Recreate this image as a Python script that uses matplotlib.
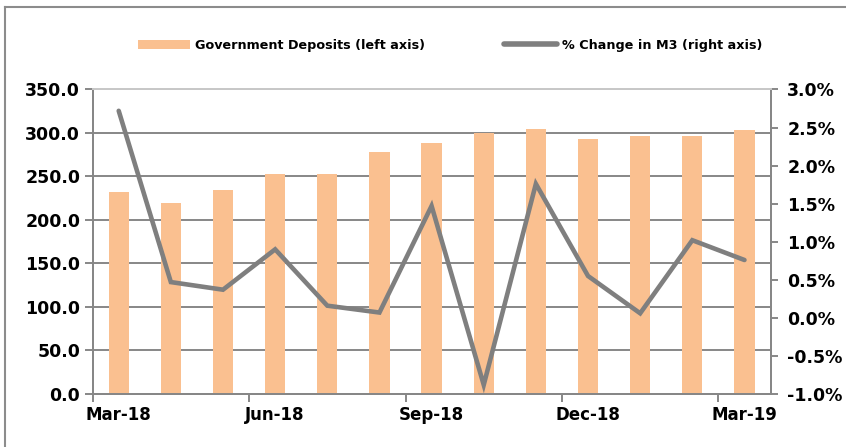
import numpy as np
import matplotlib
matplotlib.use("Agg")
import matplotlib.pyplot as plt
from matplotlib.lines import Line2D
from matplotlib.patches import Patch
from matplotlib.ticker import FixedLocator, FuncFormatter


# Data
months = ["Mar-18", "Apr-18", "May-18", "Jun-18", "Jul-18", "Aug-18", "Sep-18",
          "Oct-18", "Nov-18", "Dec-18", "Jan-19", "Feb-19", "Mar-19"]
gov_deposits = [232, 220, 235, 253, 253, 278, 288, 300, 305, 293, 297, 297, 303]
m3_change = [2.72, 0.47, 0.37, 0.90, 0.16, 0.07, 1.47, -0.88, 1.76, 0.55, 0.06, 1.02, 0.76]

bar_color = "#FAC090"
line_color = "#7F7F7F"
axis_grey = "#878787"
font = "DejaVu Sans"

plt.rcParams['font.family'] = [font]
plt.rcParams['font.weight'] = 'bold'

fig = plt.figure(figsize=(8.46, 4.47), dpi=100)
ax = fig.add_axes([0.1095, 0.1186, 0.8013, 0.6812])
ax2 = ax.twinx()

x = np.arange(len(months))

# bars on the left axis
ax.bar(x, gov_deposits, width=0.39, color=bar_color, zorder=2)
ax.set_ylim(0, 350)
ax.set_yticks(np.arange(0, 351, 50))
ax.yaxis.set_major_formatter(FuncFormatter(lambda v, p: f"{v:.1f}"))
ax.set_axisbelow(True)
ax.grid(axis='y', color=axis_grey, lw=1.4, zorder=0)

# line on the right axis
ax2.plot(x, m3_change, color=line_color, lw=3.3, solid_capstyle='round',
         solid_joinstyle='miter', zorder=3)
ax2.set_ylim(-1.0, 3.0)
ax2.set_yticks(np.arange(-1.0, 3.01, 0.5))
ax2.yaxis.set_major_formatter(FuncFormatter(lambda v, p: f"{v:.1f}%"))

# x axis: labels every quarter, tick marks on category boundaries
ax.set_xlim(-0.5, len(months) - 0.5)
ax.set_xticks(x[::3])
ax.set_xticklabels(months[::3])
ax.xaxis.set_minor_locator(FixedLocator(np.arange(-0.5, len(months), 3)))
ax.tick_params(axis='x', which='major', length=0, pad=9, labelsize=12)
ax.tick_params(axis='x', which='minor', length=6, width=1.4, color=axis_grey)
ax.tick_params(axis='y', length=6, width=1.4, color=axis_grey, pad=3, labelsize=12.5)
ax2.tick_params(axis='y', length=5, width=1.4, color=axis_grey, pad=7, labelsize=12.5)

for a in (ax, ax2):
    for s in a.spines.values():
        s.set_color(axis_grey)
        s.set_linewidth(1.4)
    a.spines['top'].set_color("#C8C8C8")

# legend
handles = [Patch(facecolor=bar_color, edgecolor='none'),
           Line2D([], [], color=line_color, lw=4, solid_capstyle='round')]
labels = ["Government Deposits (left axis)", "% Change in M3 (right axis)"]
fig.legend(handles, labels, ncol=2, loc='center', bbox_to_anchor=(0.532, 0.899),
           frameon=False, handlelength=4.1, handletextpad=0.4,
           columnspacing=6.2, prop={'weight': 'bold', 'size': 9.2})

# outer chart border (left and top visible)
fig.add_artist(Line2D([5 / 846, 5 / 846], [0, 1 - 7 / 447], color="#8C8C8C", lw=1.5))
fig.add_artist(Line2D([5 / 846, 1], [1 - 7 / 447, 1 - 7 / 447], color="#8C8C8C", lw=1.5))

fig.savefig("out.png", dpi=100)
